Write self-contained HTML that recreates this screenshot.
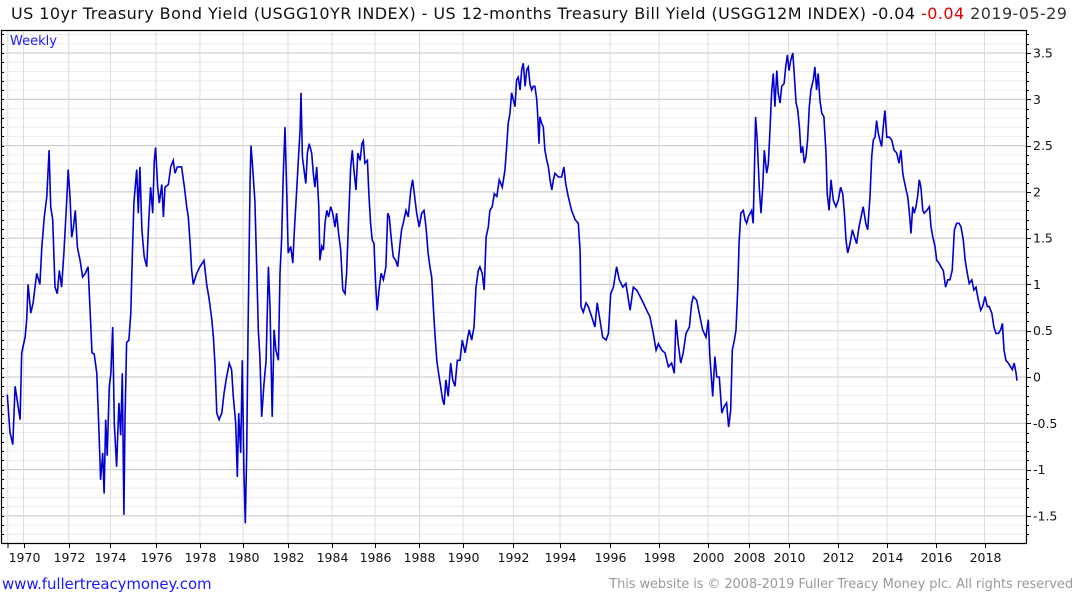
<!DOCTYPE html>
<html><head><meta charset="utf-8">
<style>
html,body{margin:0;padding:0;background:#fff;}
body{width:1075px;height:600px;overflow:hidden;position:relative;font-family:"Liberation Sans","DejaVu Sans",sans-serif;}
#title{position:absolute;left:11px;top:4px;font-size:16px;color:#111;white-space:nowrap;font-family:"DejaVu Sans","Liberation Sans",sans-serif;letter-spacing:0.43px;}
#title .neg{color:#e00000;}
#title .date{color:#333;}
#footer-left{position:absolute;left:2px;top:575px;font-size:15px;color:#1a1aff;font-family:"DejaVu Sans",sans-serif;letter-spacing:-0.1px;}
#footer-right{position:absolute;right:2px;top:577px;font-size:13px;color:#9a9a9a;font-family:"DejaVu Sans",sans-serif;letter-spacing:-0.1px;}
svg{position:absolute;left:0;top:0;}
</style></head><body>
<div id="title">US 10yr Treasury Bond Yield (USGG10YR INDEX) - US 12-months Treasury Bill Yield (USGG12M INDEX) -0.04 <span class="neg">-0.04</span> <span class="date">2019-05-29</span></div>
<svg id="chart" width="1075" height="600"></svg>
<div id="footer-left">www.fullertreacymoney.com</div>
<div id="footer-right">This website is © 2008-2019 Fuller Treacy Money plc. All rights reserved</div>
<script>
// ---- data (dates in chart/index time, values = 10yr - 12m spread, %) ----
const dates1 = [1969.29,1969.41,1969.53,1969.63,1969.85,1969.92,1970.07,1970.14,1970.20,1970.32,1970.42,1970.58,1970.72,1970.80,1970.91,1971.02,1971.12,1971.19,1971.28,1971.38,1971.48,1971.57,1971.67,1971.77,1971.89,1971.96,1972.04,1972.11,1972.18,1972.27,1972.36,1972.48,1972.59,1972.71,1972.83,1972.91,1973.00,1973.10,1973.21,1973.31,1973.38,1973.47,1973.53,1973.60,1973.67,1973.76,1973.83,1973.91,1973.98,1974.08,1974.18,1974.26,1974.33,1974.40,1974.45,1974.52,1974.62,1974.70,1974.77,1974.84,1974.96,1975.03,1975.10,1975.19,1975.29,1975.40,1975.49,1975.57,1975.66,1975.73,1975.79,1975.88,1975.95,1976.06,1976.13,1976.20,1976.35,1976.45,1976.56,1976.64,1976.74,1976.93,1977.05,1977.15,1977.22,1977.30,1977.37,1977.44,1977.59,1977.73,1977.91,1978.03,1978.14,1978.25,1978.32,1978.39,1978.47,1978.57,1978.69,1978.79,1978.90,1979.02,1979.12,1979.19,1979.30,1979.37,1979.43,1979.52,1979.59,1979.66,1979.72,1979.78,1979.84,1979.88,1979.93,1979.97,1980.04,1980.14,1980.22,1980.29,1980.36,1980.44,1980.54,1980.63,1980.73,1980.80,1980.90,1980.98,1981.06,1981.17,1981.24,1981.31,1981.38,1981.46,1981.53,1981.60,1981.71,1981.80,1981.87,1981.97,1982.07,1982.12,1982.16,1982.22,1982.29,1982.37,1982.44,1982.52,1982.63,1982.70,1982.77,1982.85,1982.94,1982.99,1983.07,1983.14,1983.21,1983.29,1983.37,1983.46,1983.55,1983.65,1983.72,1983.81,1983.90,1983.99,1984.09,1984.16,1984.25,1984.34,1984.41,1984.48,1984.57,1984.65,1984.75,1984.83,1984.89,1984.96,1985.07,1985.14,1985.21,1985.28,1985.36,1985.43,1985.50,1985.58,1985.67,1985.77,1985.88,1985.96,1986.03,1986.12,1986.20,1986.31,1986.40,1986.50,1986.57,1986.64,1986.76,1986.86,1986.97,1987.05,1987.16,1987.23,1987.34,1987.45,1987.55,1987.64,1987.73,1987.81,1987.89,1987.96,1988.03,1988.11,1988.19,1988.28,1988.37,1988.43,1988.51,1988.61,1988.72,1988.81,1988.91,1989.01,1989.13,1989.23,1989.35,1989.45,1989.53,1989.64,1989.74,1989.83,1989.93,1990.00,1990.10,1990.19,1990.27,1990.37,1990.44,1990.54,1990.63,1990.74,1990.85,1990.98,1991.10,1991.17,1991.24,1991.32,1991.39,1991.46,1991.54,1991.61,1991.68,1991.76,1991.83,1991.90,1991.98,1992.05,1992.12,1992.19,1992.27,1992.34,1992.41,1992.49,1992.53,1992.59,1992.63,1992.71,1992.78,1992.85,1992.93,1993.00,1993.07,1993.15,1993.22,1993.29,1993.44,1993.58,1993.68,1993.76,1993.87,1994.02,1994.17,1994.31,1994.39,1994.43,1994.53,1994.65,1994.75,1994.90,1995.04,1995.14,1995.26,1995.38,1995.53,1995.63,1995.73,1995.85,1995.99,1996.11,1996.26,1996.40,1996.58,1996.72,1996.87,1997.02,1997.16,1997.31,1997.45,1997.60,1997.72,1997.82,1997.97,1998.11,1998.26,1998.40,1998.52,1998.59,1998.69,1998.80,1998.91,1999.03,1999.18,1999.28,1999.35,1999.50,1999.61,1999.76,1999.91,2000.01,2000.08,2000.20,2000.30,2000.38,2000.49,2000.60,2000.70,2000.81,2000.90,2000.99];
const values1 = [-0.19,-0.6,-0.73,-0.1,-0.46,0.26,0.43,0.62,1.0,0.69,0.8,1.12,1.0,1.4,1.73,1.95,2.45,1.84,1.7,0.97,0.9,1.15,0.97,1.34,1.88,2.24,1.93,1.51,1.6,1.8,1.4,1.26,1.08,1.12,1.19,0.76,0.26,0.25,0.04,-0.6,-1.11,-0.82,-1.26,-0.46,-0.85,-0.1,0.04,0.54,-0.5,-0.97,-0.28,-0.63,0.04,-1.49,-0.46,0.37,0.4,0.69,1.34,1.88,2.24,1.77,2.27,1.59,1.3,1.19,1.7,2.05,1.77,2.34,2.48,2.05,1.88,2.08,1.73,2.05,2.08,2.27,2.34,2.2,2.27,2.27,2.05,1.84,1.73,1.45,1.15,1.0,1.12,1.19,1.26,1.0,0.83,0.62,0.43,0.13,-0.39,-0.46,-0.39,-0.17,0.0,0.15,0.08,-0.2,-0.5,-1.08,-0.39,-0.82,0.18,-1.03,-1.58,-0.82,0.47,1.26,2.13,2.5,2.27,1.9,1.19,0.51,0.22,-0.43,-0.07,0.18,1.19,0.76,-0.43,0.51,0.29,0.18,1.12,1.48,2.16,2.7,2.05,1.34,1.41,1.23,1.59,2.02,2.45,2.67,3.07,2.38,2.24,2.09,2.42,2.52,2.42,2.2,2.05,2.27,1.84,1.26,1.41,1.37,1.66,1.8,1.73,1.84,1.77,1.62,1.77,1.55,1.37,0.94,0.9,1.12,1.73,2.27,2.45,2.24,2.02,2.42,2.34,2.52,2.55,2.31,2.34,1.95,1.66,1.48,1.44,1.01,0.72,0.94,1.12,1.05,1.19,1.77,1.73,1.48,1.3,1.26,1.19,1.44,1.59,1.66,1.8,1.73,2.02,2.13,1.91,1.77,1.62,1.77,1.8,1.62,1.34,1.19,1.08,0.76,0.47,0.18,0.04,-0.1,-0.25,-0.3,-0.03,-0.21,0.15,-0.03,-0.1,0.18,0.18,0.4,0.26,0.4,0.51,0.4,0.54,0.97,1.15,1.19,1.12,0.94,1.51,1.62,1.8,1.84,1.98,1.95,2.13,2.05,2.24,2.48,2.74,2.85,3.07,3.0,2.92,3.21,3.24,3.1,3.32,3.39,3.14,3.32,3.35,3.17,3.1,3.14,3.14,3.0,2.85,2.52,2.81,2.74,2.7,2.45,2.34,2.27,2.13,2.02,2.13,2.2,2.16,2.16,2.27,2.09,1.95,1.8,1.7,1.66,1.37,0.76,0.7,0.8,0.76,0.65,0.54,0.8,0.62,0.43,0.4,0.47,0.9,0.97,1.19,1.05,0.97,1.01,0.72,0.97,0.94,0.87,0.8,0.72,0.65,0.47,0.29,0.36,0.29,0.26,0.11,0.15,0.04,0.62,0.36,0.15,0.26,0.47,0.54,0.8,0.87,0.83,0.69,0.51,0.43,0.62,0.22,-0.21,0.22,0.0,0.0,-0.39,-0.32,-0.28,-0.54,-0.36];
const dates2 = [2007.29,2007.38,2007.45,2007.52,2007.58,2007.65,2007.76,2007.83,2007.90,2007.97,2008.11,2008.18,2008.28,2008.35,2008.44,2008.51,2008.58,2008.65,2008.75,2008.82,2008.89,2008.96,2009.03,2009.10,2009.18,2009.24,2009.32,2009.39,2009.49,2009.56,2009.63,2009.70,2009.77,2009.86,2009.92,2010.00,2010.07,2010.14,2010.21,2010.28,2010.35,2010.42,2010.49,2010.56,2010.63,2010.73,2010.80,2010.87,2010.94,2011.01,2011.09,2011.18,2011.27,2011.32,2011.40,2011.48,2011.58,2011.69,2011.79,2011.89,2011.98,2012.05,2012.12,2012.19,2012.29,2012.39,2012.47,2012.57,2012.67,2012.76,2012.85,2012.96,2013.04,2013.14,2013.21,2013.28,2013.35,2013.42,2013.49,2013.56,2013.63,2013.70,2013.77,2013.85,2013.96,2014.06,2014.16,2014.27,2014.37,2014.45,2014.53,2014.58,2014.67,2014.74,2014.81,2014.88,2014.95,2015.02,2015.09,2015.16,2015.23,2015.30,2015.38,2015.44,2015.55,2015.66,2015.73,2015.80,2015.90,2015.97,2016.07,2016.15,2016.25,2016.35,2016.44,2016.53,2016.63,2016.72,2016.82,2016.92,2017.00,2017.10,2017.18,2017.27,2017.35,2017.46,2017.55,2017.64,2017.74,2017.84,2017.92,2018.02,2018.12,2018.20,2018.31,2018.40,2018.49,2018.59,2018.69,2018.76,2018.83,2018.91,2019.01,2019.11,2019.18,2019.26,2019.34,2019.38];
const values2 = [0.29,0.4,0.51,0.94,1.45,1.77,1.8,1.7,1.66,1.73,1.8,1.66,2.81,2.56,2.02,1.77,2.05,2.45,2.2,2.3,2.67,3.07,3.28,2.92,3.31,3.07,2.96,3.14,3.17,3.35,3.48,3.31,3.42,3.5,3.28,2.96,2.89,2.7,2.42,2.49,2.31,2.38,2.56,2.92,3.1,3.21,3.35,3.1,3.28,2.99,2.85,2.81,2.42,1.98,1.8,2.13,1.91,1.84,1.91,2.05,1.98,1.77,1.48,1.34,1.44,1.59,1.52,1.44,1.62,1.73,1.84,1.66,1.59,1.95,2.38,2.56,2.59,2.77,2.63,2.56,2.49,2.7,2.88,2.59,2.59,2.56,2.45,2.42,2.31,2.45,2.2,2.13,2.02,1.95,1.77,1.55,1.84,1.77,1.84,1.95,2.13,2.05,1.8,1.77,1.8,1.84,1.62,1.52,1.41,1.26,1.23,1.19,1.15,0.97,1.05,1.05,1.15,1.59,1.66,1.66,1.62,1.48,1.26,1.12,1.01,1.05,0.94,0.97,0.83,0.72,0.76,0.87,0.76,0.76,0.69,0.54,0.47,0.47,0.51,0.58,0.29,0.18,0.15,0.11,0.08,0.15,0.04,-0.04];
// tick labels and their dates in chart (index) time
const xTickLabels = ["1970","1972","1974","1976","1978","1980","1982","1984","1986","1988","1990","1992","1994","1996","1998","2000","2008","2010","2012","2014","2016","2018"];
const xTickDates = [1970.00,1971.98,1973.81,1975.81,1977.73,1979.62,1981.59,1983.52,1985.40,1987.35,1989.26,1991.47,1993.51,1995.70,1997.85,2000.00,2008.00,2009.68,2011.78,2013.86,2015.92,2018.00];
const yTickValues = [-1.5,-1,-0.5,0,0.5,1,1.5,2,2.5,3,3.5];
const yTickLabels = ["-1.5","-1","-0.5","0","0.5","1","1.5","2","2.5","3","3.5"];

// ---- axes ----
const PL=1, PT=30, PR=1026, PB=543;
function xScale(d){
  if(d<=2004) return 23.5+(d-1970)*22.82;
  return 749+(d-2008)*23.55;
}
function yScale(v){ return 377-v*92.57; }

const NS="http://www.w3.org/2000/svg";
const svg=document.getElementById('chart');
function mk(tag,attrs,parent){const e=document.createElementNS(NS,tag);for(const k in attrs)e.setAttribute(k,attrs[k]);(parent||svg).appendChild(e);return e;}

const grid=mk('g',{});


for(let i=-17;i<=37;i++){
  const v=i/10, y=yScale(v);
  if(y<PT||y>PB) continue;
  const major=(i%5===0);
  const l=mk('line',{x1:PL,x2:PR,y1:y,y2:y,stroke:major?'#c4c4c4':'#ececec','stroke-width':1},grid);
  
  
}
const vg0=mk('line',{x1:7.7,x2:7.7,y1:PT,y2:PB,stroke:'#dcdcdc','stroke-width':1},grid);


for(let i=0;i<xTickDates.length;i++){
  const x=xScale(xTickDates[i]);
  const l=mk('line',{x1:x,x2:x,y1:PT,y2:PB,stroke:'#dcdcdc','stroke-width':1},grid);
  
  
}

const frame=mk('path',{d:`M${PL+0.5},${PB} L${PL+0.5},${PT+0.5} L${PR+0.5},${PT+0.5} L${PR+0.5},${PB+0.5} L${PL},${PB+0.5}`,fill:'none',stroke:'#000','stroke-width':1.2});



const yAxis=mk('g',{});


for(let i=-17;i<=37;i++){
  const y=Math.round(yScale(i/10))+0.5;
  if(y<PT||y>PB) continue;
  const len=(i%5===0)?5:3;
  const t=mk('line',{x1:PR,x2:PR+len,y1:y,y2:y,stroke:'#000','stroke-width':1},yAxis);
  
  
  const t2=mk('line',{x1:PL,x2:PL+3,y1:y,y2:y,stroke:'#000','stroke-width':1},yAxis);
  
  
}
for(let i=0;i<yTickValues.length;i++){
  const t=mk('text',{x:PR+7,y:yScale(yTickValues[i])+4.5,'font-size':'12.5','font-family':'DejaVu Sans, Liberation Sans, sans-serif',fill:'#111'},yAxis);
  t.textContent=yTickLabels[i];
  
  
}

const xAxis=mk('g',{});


for(let i=0;i<xTickDates.length;i++){
  const x=Math.round(xScale(xTickDates[i]))+0.5;
  const tk=mk('line',{x1:x,x2:x,y1:PB,y2:PB+5,stroke:'#000','stroke-width':1},xAxis);
  
  
  const t=mk('text',{x:x,y:PB+19,'text-anchor':'middle','font-size':'12.5','font-family':'DejaVu Sans, Liberation Sans, sans-serif',fill:'#111'},xAxis);
  t.textContent=xTickLabels[i];
  
  
}
const tk0=mk('line',{x1:8,x2:8,y1:PB,y2:PB+5,stroke:'#000','stroke-width':1},xAxis);



const wk=mk('text',{x:10,y:45,'font-size':'13','font-family':'DejaVu Sans, Liberation Sans, sans-serif',fill:'#1a1aff'});
wk.textContent='Weekly';



let d='';
for(let i=0;i<dates1.length;i++){d+=(i?'L':'M')+xScale(dates1[i]).toFixed(1)+','+yScale(values1[i]).toFixed(1);}
for(let i=0;i<dates2.length;i++){d+='L'+xScale(dates2[i]).toFixed(1)+','+yScale(values2[i]).toFixed(1);}
const line=mk('path',{d:d,fill:'none',stroke:'#0000d0','stroke-width':1.6,'stroke-linejoin':'miter'});


</script>
</body></html>
